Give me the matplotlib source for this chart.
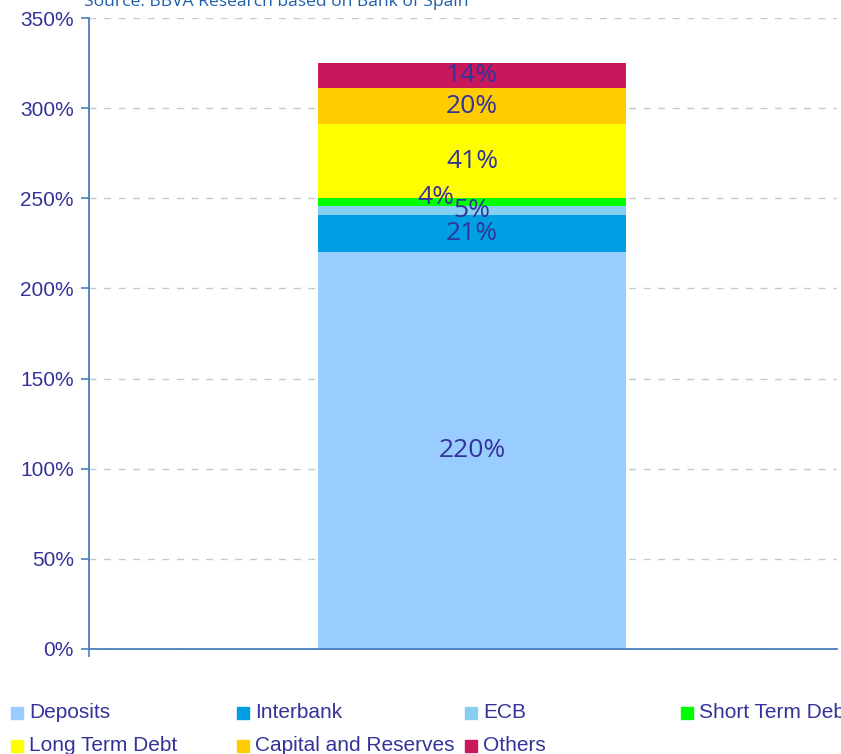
import numpy as np
import matplotlib.pyplot as plt
from matplotlib.patches import Rectangle

plt.rcParams['font.family'] = ['Liberation Sans', 'DejaVu Sans']

# data
series_names = ['Deposits', 'Interbank', 'ECB', 'Short Term Debt',
                'Long Term Debt', 'Capital and Reserves', 'Others']
series_values = [220, 21, 5, 4, 41, 20, 14]
series_colors = ['#99ccff', '#009fe3', '#87cef0', '#00ff00',
                 '#ffff00', '#ffcc00', '#c8175a']
yticks = [0, 50, 100, 150, 200, 250, 300, 350]
ytick_labels = ['0%', '50%', '100%', '150%', '200%', '250%', '300%', '350%']
source = 'Source: BBVA Research based on Bank of Spain'

txt_col = '#333399'
axis_col = '#4a7ebb'

fig = plt.figure(figsize=(8.41, 7.54), dpi=100, facecolor='w')
ax = fig.add_axes([0.1058, 0.1393, 0.889, 0.8368])

w = 0.6
bottom = 0
for name, v, c in zip(series_names, series_values, series_colors):
    ax.bar(0, v, width=w, bottom=bottom, color=c, label=name, zorder=2)
    # labels centred in segment, the short term one is nudged left/up like the original
    dx, dy = 0, 0
    if name == 'Short Term Debt':
        dx, dy = -0.07, 2.7
    ax.text(dx, bottom + v / 2 + dy, '%d%%' % v, ha='center', va='center',
            color=txt_col, fontsize=19, family=['Open Sans', 'DejaVu Sans'], zorder=3)
    bottom += v

ax.set_xlim(-0.746, 0.71)
ax.set_ylim(0, 350)
ax.set_yticks(yticks)
ax.set_yticklabels(ytick_labels)
ax.yaxis.grid(True, color='#c8c8c8', linestyle=(0, (5, 5.5)), linewidth=1.0, zorder=0)
ax.set_axisbelow(True)

ax.set_xticks([-0.746])
ax.set_xticklabels([''])
ax.tick_params(axis='x', direction='out', length=6, color=axis_col, width=1.2)
ax.tick_params(axis='y', direction='out', length=6, color=axis_col, width=1.2,
               labelcolor=txt_col, labelsize=15, pad=5)

for s in ['top', 'right']:
    ax.spines[s].set_visible(False)
for s in ['left', 'bottom']:
    ax.spines[s].set_color(axis_col)
    ax.spines[s].set_linewidth(1.3)

# source line, partly cut off at top like the original
fig.text(84 / 841, 1 - 6 / 754, source, color='#1f5fa8', fontsize=12.6,
         family=['Open Sans', 'DejaVu Sans'], va='baseline', ha='left')

# legend laid out by hand: 4 columns, 2 rows
col_x = [11, 237, 465, 681]
row_y = [713, 746]
for i, (name, c) in enumerate(zip(series_names, series_colors)):
    r, k = divmod(i, 4)
    x0 = col_x[k]
    y0 = row_y[r]
    fig.patches.append(Rectangle((x0 / 841, 1 - (y0 + 6) / 754), 12 / 841, 12 / 754,
                                 transform=fig.transFigure, color=c, figure=fig))
    fig.text((x0 + 18) / 841, 1 - (y0 + 5) / 754, name, color=txt_col, fontsize=15,
             va='baseline', ha='left')

fig.savefig('out.png', dpi=100)
